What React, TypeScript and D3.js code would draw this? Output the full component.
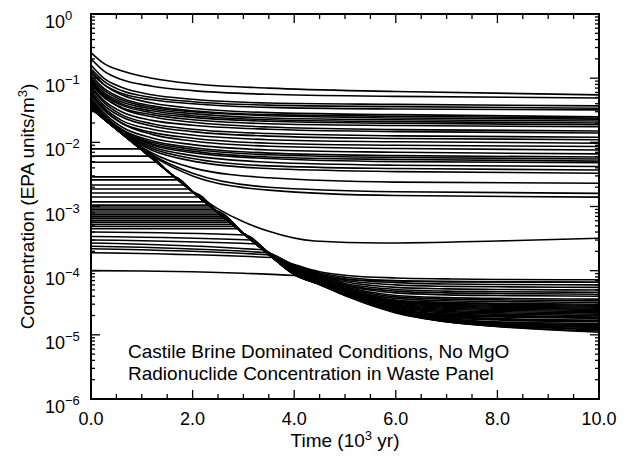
import React from "react";
import * as d3 from "d3";

// ---------- data ----------
// Upper family: concentrations that fall quickly and level off (value at each time in TA)
const TA = [0, 0.25, 0.6, 1.2, 2, 3.5, 6, 10];
const UPPER: number[][] = [
  [0.25, 0.17, 0.13, 0.1, 0.082, 0.07, 0.062, 0.055],
  [0.2, 0.13, 0.095, 0.075, 0.064, 0.056, 0.052, 0.049],
  [0.16, 0.1, 0.072, 0.055, 0.047, 0.041, 0.039, 0.037],
  [0.14, 0.09, 0.064, 0.05, 0.043, 0.038, 0.036, 0.034],
  [0.12, 0.08, 0.058, 0.046, 0.04, 0.035, 0.033, 0.032],
  [0.13, 0.08, 0.055, 0.041, 0.034, 0.029, 0.027, 0.025],
  [0.11, 0.07, 0.049, 0.037, 0.031, 0.027, 0.0255, 0.024],
  [0.1, 0.065, 0.046, 0.035, 0.03, 0.026, 0.024, 0.023],
  [0.095, 0.06, 0.043, 0.033, 0.028, 0.024, 0.0225, 0.0215],
  [0.09, 0.057, 0.04, 0.031, 0.026, 0.0225, 0.021, 0.02],
  [0.085, 0.054, 0.038, 0.029, 0.0245, 0.0213, 0.0198, 0.0188],
  [0.08, 0.05, 0.035, 0.027, 0.0225, 0.0195, 0.0183, 0.0175],
  [0.09, 0.052, 0.034, 0.025, 0.0205, 0.0173, 0.0158, 0.015],
  [0.075, 0.045, 0.03, 0.022, 0.0185, 0.016, 0.0147, 0.014],
  [0.07, 0.042, 0.027, 0.0195, 0.016, 0.0137, 0.0126, 0.012],
  [0.065, 0.038, 0.025, 0.018, 0.0147, 0.0125, 0.0115, 0.011],
  [0.06, 0.035, 0.022, 0.016, 0.013, 0.011, 0.0102, 0.0097],
  [0.055, 0.032, 0.02, 0.0143, 0.0116, 0.0097, 0.009, 0.0086],
  [0.06, 0.033, 0.02, 0.0133, 0.0105, 0.0087, 0.008, 0.0076],
  [0.05, 0.029, 0.0175, 0.0117, 0.0092, 0.0076, 0.007, 0.0066],
  [0.048, 0.027, 0.016, 0.0106, 0.0083, 0.0068, 0.0062, 0.0059],
  [0.045, 0.026, 0.0155, 0.01, 0.0078, 0.0064, 0.0058, 0.0055],
  [0.042, 0.025, 0.015, 0.0095, 0.0073, 0.0059, 0.0054, 0.0051],
  [0.04, 0.0245, 0.0147, 0.0091, 0.0069, 0.0056, 0.005, 0.0048],
  [0.038, 0.024, 0.0145, 0.0085, 0.0062, 0.0049, 0.0044, 0.0042],
  [0.036, 0.0238, 0.0142, 0.008, 0.0056, 0.0043, 0.0039, 0.0037],
  [0.035, 0.0235, 0.014, 0.0075, 0.0051, 0.0039, 0.0035, 0.0033],
  [0.034, 0.0233, 0.0139, 0.0068, 0.004, 0.0028, 0.0024, 0.0023],
  [0.034, 0.0233, 0.0138, 0.0064, 0.0033, 0.002, 0.0017, 0.0016],
  [0.034, 0.0233, 0.0138, 0.0062, 0.003, 0.0018, 0.00148, 0.0014],
];

// Inventory-limited decay envelope (the straight diagonal)
const DIAG_T = [0, 0.5, 1, 1.5, 2, 2.5, 3];
const DIAG_V = [0.0339, 0.016, 0.0076, 0.0036, 0.0017, 0.0008, 0.00038];

// Flat (solubility-limited) lines: [value at t=0, time they meet the envelope, value there]
const FLAT: number[][] = [
  [0.0079, 0.97, 0.0079],
  [0.0061, 1.15, 0.0061],
  [0.0049, 1.29, 0.0049],
  [0.0029, 1.64, 0.0029],
  [0.0026, 1.72, 0.0026],
  [0.00216, 1.84, 0.00216],
  [0.00187, 1.94, 0.00187],
  [0.00162, 2.03, 0.00162],
  [0.00141, 2.12, 0.00141],
  [0.00118, 2.24, 0.00118],
  [0.00105, 2.32, 0.00105],
  [0.00098, 2.37, 0.00098],
  [0.00091, 2.42, 0.00091],
  [0.00085, 2.46, 0.00085],
  [0.00079, 2.51, 0.00079],
  [0.00074, 2.56, 0.00074],
  [0.00069, 2.6, 0.00069],
  [0.00065, 2.64, 0.00065],
  [0.00061, 2.68, 0.00061],
  [0.00057, 2.73, 0.00057],
  [0.00053, 2.78, 0.00053],
  [0.00049, 2.83, 0.00049],
  [0.00045, 2.89, 0.00045],
  [0.0004, 3.04, 0.00036],
  [0.00034, 3.16, 0.0003],
  [0.0003, 3.25, 0.00026],
  [0.00027, 3.4, 0.00021],
  [0.00024, 3.46, 0.00019],
  [0.00022, 3.52, 0.000175],
  [0.00019, 3.58, 0.00016],
];

// Late-time tails of the lower bundle (units of 1e-5), top to bottom
const TAIL_T = [3.5, 4, 4.5, 5, 6, 7, 8, 10];
const TAILS_E5: number[][] = [
  [19.5, 12.5, 9.6, 8.5, 7.7, 7.45, 7.3, 7.2],
  [19.4, 12.2, 9.2, 7.9, 7.0, 6.8, 6.7, 6.6],
  [19.3, 12.0, 8.9, 7.5, 6.5, 6.2, 6.1, 6.0],
  [19.2, 11.8, 8.6, 7.1, 6.0, 5.7, 5.6, 5.5],
  [19.1, 11.6, 8.3, 6.7, 5.5, 5.2, 5.1, 5.0],
  [19.0, 11.4, 8.0, 6.3, 5.1, 4.8, 4.7, 4.6],
  [19.0, 11.2, 7.8, 6.0, 4.8, 4.5, 4.4, 4.3],
  [18.9, 11.0, 7.6, 5.8, 4.5, 4.2, 4.1, 4.0],
  [18.9, 10.8, 7.4, 5.6, 4.1, 3.8, 3.7, 3.6],
  [18.8, 10.6, 7.2, 5.4, 3.9, 3.6, 3.5, 3.4],
  [18.8, 10.4, 7.1, 5.2, 3.7, 3.4, 3.3, 3.2],
  [18.7, 10.2, 7.0, 5.1, 3.5, 3.2, 3.1, 3.0],
  [18.7, 10.1, 6.9, 5.0, 3.4, 3.1, 3.0, 2.9],
  [18.6, 10.0, 6.8, 4.9, 3.3, 3.0, 2.9, 2.8],
  [18.6, 9.9, 6.7, 4.8, 3.2, 2.9, 2.8, 2.7],
  [18.5, 9.8, 6.6, 4.7, 3.1, 2.8, 2.7, 2.6],
  [18.5, 9.7, 6.6, 4.7, 3.0, 2.7, 2.6, 2.5],
  [18.4, 9.6, 6.5, 4.6, 2.95, 2.6, 2.5, 2.4],
  [18.4, 9.5, 6.5, 4.6, 2.85, 2.5, 2.4, 2.3],
  [18.3, 9.4, 6.4, 4.5, 2.75, 2.4, 2.3, 2.2],
  [18.3, 9.3, 6.4, 4.5, 2.7, 2.3, 2.2, 2.1],
  [18.2, 9.3, 6.4, 4.5, 2.6, 2.2, 2.1, 2.0],
  [18.2, 9.2, 6.3, 4.4, 2.55, 2.1, 2.0, 1.9],
  [18.2, 9.2, 6.3, 4.4, 2.5, 2.05, 1.95, 1.85],
  [18.1, 9.1, 6.3, 4.4, 2.45, 2.0, 1.9, 1.8],
  [18.1, 9.1, 6.3, 4.3, 2.4, 1.95, 1.8, 1.7],
  [18.1, 9.0, 6.2, 4.3, 2.4, 1.9, 1.75, 1.65],
  [18.0, 9.0, 6.2, 4.3, 2.35, 1.85, 1.7, 1.6],
  [18.0, 9.0, 6.2, 4.3, 2.35, 1.8, 1.6, 1.5],
  [18.0, 8.9, 6.2, 4.2, 2.3, 1.75, 1.55, 1.45],
  [18.0, 8.9, 6.2, 4.2, 2.3, 1.7, 1.5, 1.4],
  [18.0, 8.9, 6.2, 4.2, 2.3, 1.7, 1.45, 1.35],
  [18.0, 8.8, 6.2, 4.2, 2.3, 1.65, 1.45, 1.3],
  [18.0, 8.8, 6.1, 4.2, 2.25, 1.65, 1.4, 1.25],
  [18.0, 8.8, 6.1, 4.2, 2.25, 1.6, 1.4, 1.2],
  [18.0, 8.7, 6.1, 4.1, 2.25, 1.6, 1.35, 1.15],
  [18.0, 8.7, 6.1, 4.1, 2.2, 1.6, 1.35, 1.1],
];

// Line that leaves the envelope near t=2 and levels at ~3e-4
const BRANCH_T = [0, 0.5, 1, 1.5, 2, 2.5, 3, 3.5, 4.4, 5.7, 8, 10];
const BRANCH_V = [0.0339, 0.016, 0.0076, 0.0036, 0.0017, 0.00092, 0.00058, 0.00041, 0.00029, 0.00027, 0.00029, 0.00032];

// Lowest flat line near 1e-4
const LOW_T = [0, 1, 2, 3, 4, 4.5, 5, 6, 7, 8, 10];
const LOW_V = [1.0e-4, 0.99e-4, 0.96e-4, 0.91e-4, 0.84e-4, 0.78e-4, 0.73e-4, 0.69e-4, 0.67e-4, 0.665e-4, 0.66e-4];

// Axis ticks and labels
const X_MAJOR = [0, 2, 4, 6, 8, 10];
const X_LABELS = ["0.0", "2.0", "4.0", "6.0", "8.0", "10.0"];
const Y_EXP = [0, -1, -2, -3, -4, -5, -6];

const NOTE_LINES = [
  "Castile Brine Dominated Conditions, No MgO",
  "Radionuclide Concentration in Waste Panel",
];

// ---------- layout ----------
const W = 632;
const H = 461;
const L = 91, R = 599, T = 14, B = 399;
const FONT = "'Liberation Sans', Arial, Helvetica, sans-serif";

export default function App() {
  const x = d3.scaleLinear().domain([0, 10]).range([L, R]);
  const y = d3.scaleLog().domain([1e-6, 1]).range([B, T]);
  const line = d3
    .line<number[]>()
    .x((d) => x(d[0]))
    .y((d) => y(d[1]))
    .curve(d3.curveMonotoneX);

  const series: number[][][] = [];
  UPPER.forEach((vals) => series.push(vals.map((v, i) => [TA[i], v])));

  const tailFrom = (k: number, t0: number) =>
    TAIL_T.map((t, i) => [t, TAILS_E5[k][i] * 1e-5]).filter((p) => p[0] > t0 + 0.05);
  const diagFrom = (t0: number) =>
    DIAG_T.map((t, i) => [t, DIAG_V[i]]).filter((p) => p[0] > t0 + 0.05);

  FLAT.forEach((f, i) => {
    series.push([[0, f[0]], [f[1], f[2]], ...diagFrom(f[1]), ...tailFrom(FLAT.length - 1 - i, f[1])]);
  });
  for (let k = FLAT.length; k < TAILS_E5.length; k++) {
    series.push([...diagFrom(-1), ...tailFrom(k, -1)]);
  }
  series.push(BRANCH_T.map((t, i) => [t, BRANCH_V[i]]));
  series.push(LOW_T.map((t, i) => [t, LOW_V[i]]));

  const xMinor = d3.range(0, 10.001, 0.5).filter((v) => Math.abs(v / 2 - Math.round(v / 2)) > 1e-6);
  const yTicks = y.ticks();
  const yMinor = yTicks.filter((v) => Math.abs(Math.log10(v) - Math.round(Math.log10(v))) > 1e-6);

  return (
    <svg
      width={W}
      height={H}
      style={{ position: "absolute", left: 0, top: 0, background: "#fff" }}
      fontFamily={FONT}
    >
      <rect x={0} y={0} width={W} height={H} fill="#fff" />
      <defs>
        <clipPath id="plot">
          <rect x={L} y={T} width={R - L} height={B - T} />
        </clipPath>
      </defs>
      <g clipPath="url(#plot)" fill="none" stroke="#000" strokeWidth={1.6}>
        {series.map((s, i) => (
          <path key={i} d={line(s) || ""} />
        ))}
      </g>

      {/* ticks */}
      <g stroke="#000" strokeWidth={1.3}>
        {X_MAJOR.map((v) => (
          <g key={"xm" + v}>
            <line x1={x(v)} x2={x(v)} y1={B} y2={B - 9} />
            <line x1={x(v)} x2={x(v)} y1={T} y2={T + 9} />
          </g>
        ))}
        {xMinor.map((v) => (
          <g key={"xn" + v}>
            <line x1={x(v)} x2={x(v)} y1={B} y2={B - 5} />
            <line x1={x(v)} x2={x(v)} y1={T} y2={T + 5} />
          </g>
        ))}
        {Y_EXP.map((e) => (
          <g key={"ym" + e}>
            <line x1={L} x2={L + 9} y1={y(Math.pow(10, e))} y2={y(Math.pow(10, e))} />
            <line x1={R} x2={R - 9} y1={y(Math.pow(10, e))} y2={y(Math.pow(10, e))} />
          </g>
        ))}
        {yMinor.map((v, i) => (
          <g key={"yn" + i}>
            <line x1={L} x2={L + 4} y1={y(v)} y2={y(v)} />
            <line x1={R} x2={R - 4} y1={y(v)} y2={y(v)} />
          </g>
        ))}
      </g>

      <rect x={L} y={T} width={R - L} height={B - T} fill="none" stroke="#000" strokeWidth={2} />

      {/* x tick labels */}
      {X_MAJOR.map((v, i) => (
        <text key={"xl" + v} x={x(v)} y={425} fontSize={18} textAnchor="middle" fill="#000">
          {X_LABELS[i]}
        </text>
      ))}
      {/* y tick labels */}
      {Y_EXP.map((e) => (
        <text key={"yl" + e} x={45} y={y(Math.pow(10, e)) + 14} fontSize={18} fill="#000">
          10
          <tspan dy={-8} fontSize={13}>
            {e === 0 ? "0" : "\u2212" + -e}
          </tspan>
        </text>
      ))}

      {/* axis titles */}
      <text x={(L + R) / 2} y={447} fontSize={19} textAnchor="middle" fill="#000">
        Time (10
        <tspan dy={-7} fontSize={13}>3</tspan>
        <tspan dy={7}> yr)</tspan>
      </text>
      <text
        transform={`translate(34, ${(T + B) / 2}) rotate(-90)`}
        fontSize={19}
        textAnchor="middle"
        fill="#000"
      >
        Concentration (EPA units/m
        <tspan dy={-7} fontSize={13}>3</tspan>
        <tspan dy={7}>)</tspan>
      </text>

      {/* annotation */}
      {NOTE_LINES.map((s, i) => (
        <text key={"n" + i} x={128} y={358 + i * 22} fontSize={19} fill="#000">
          {s}
        </text>
      ))}
    </svg>
  );
}
